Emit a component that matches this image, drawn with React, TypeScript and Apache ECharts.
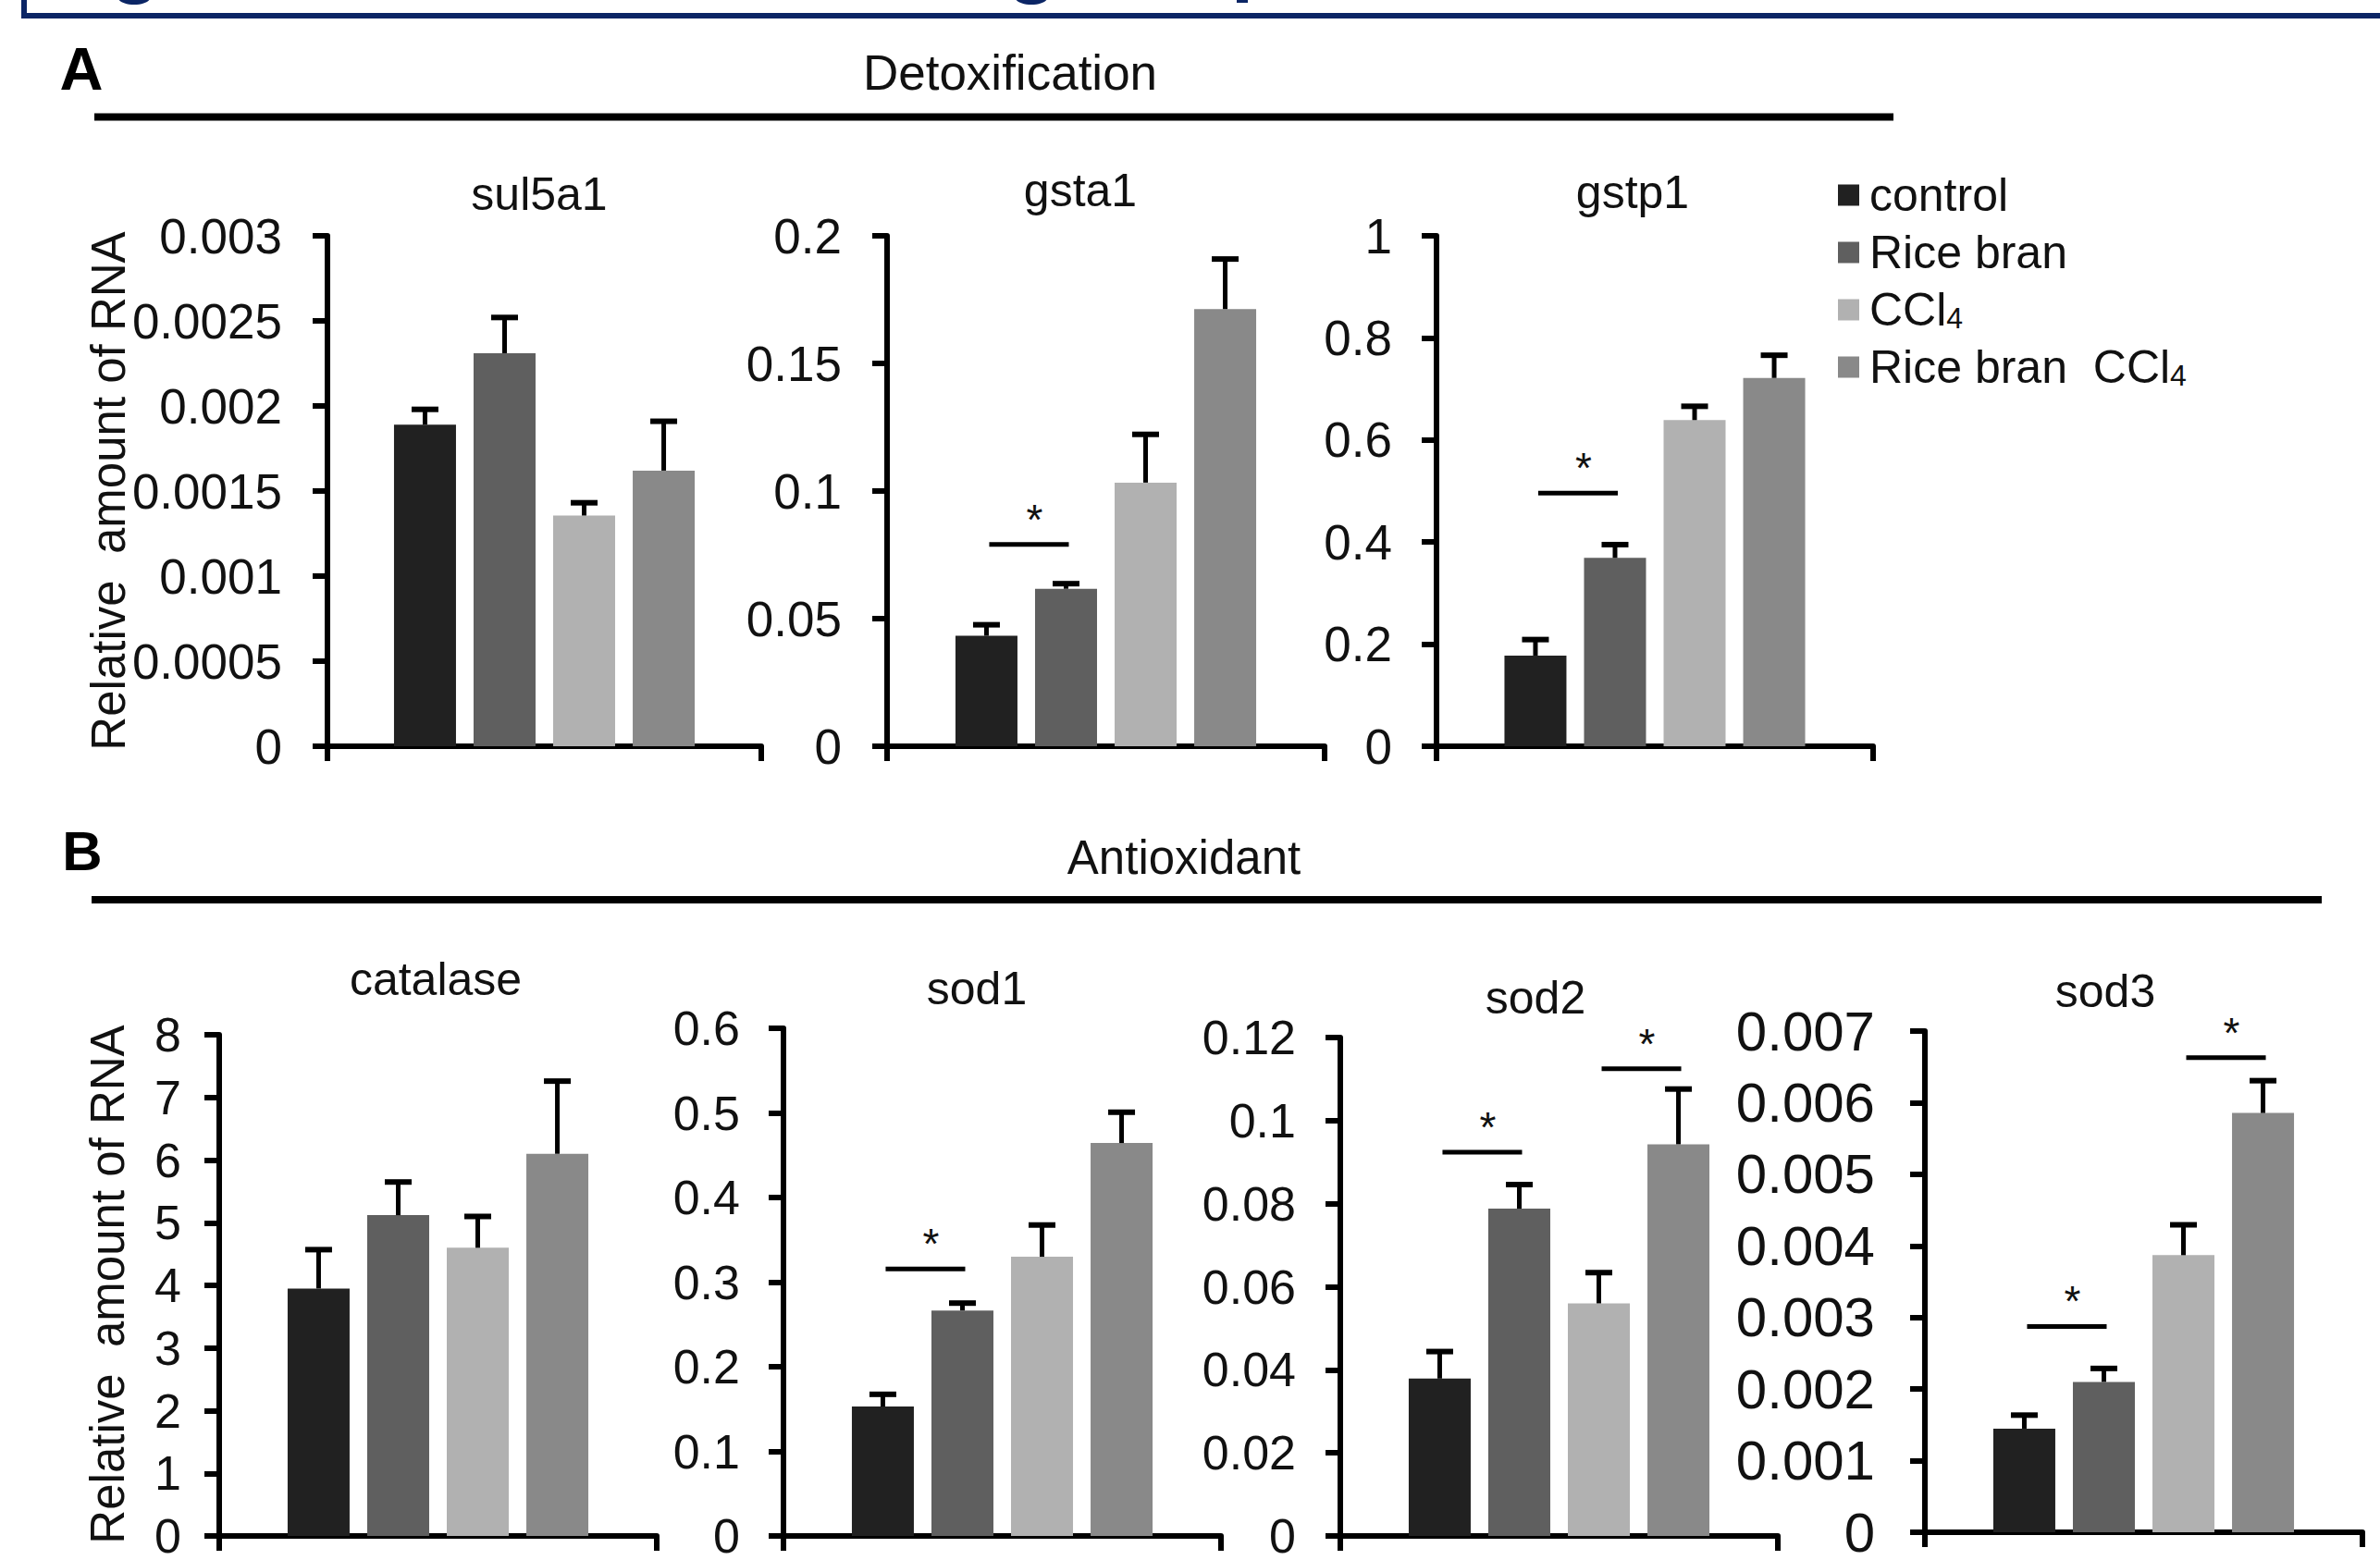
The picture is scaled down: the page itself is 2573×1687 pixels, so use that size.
import React, { useEffect, useRef } from 'react';
import * as echarts from 'echarts';

const FONT = '"Liberation Sans", Arial, Helvetica, sans-serif';

// groups (series)
const GROUPS = ['control', 'Rice bran', 'CCl4', 'Rice bran  CCl4'];
const COLORS = ['#212121', '#5f5f5f', '#b1b1b1', '#898989'];

// genes (one panel each)
const GENES = ['sul5a1', 'gsta1', 'gstp1', 'catalase', 'sod1', 'sod2', 'sod3'];

// means and error bars (SEM)
const sul5a1Mean = [0.00189, 0.00231, 0.001356, 0.00162];
const sul5a1Err = [0.00009, 0.00021, 0.000075, 0.00029];
const gsta1Mean = [0.0433, 0.0617, 0.1033, 0.1713];
const gsta1Err = [0.0043, 0.002, 0.0189, 0.0196];
const gstp1Mean = [0.1776, 0.369, 0.639, 0.7215];
const gstp1Err = [0.0314, 0.026, 0.027, 0.0445];
const catalaseMean = [3.95, 5.12, 4.6, 6.1];
const catalaseErr = [0.62, 0.53, 0.5, 1.16];
const sod1Mean = [0.153, 0.2665, 0.33, 0.4644];
const sod1Err = [0.0144, 0.0087, 0.0375, 0.0364];
const sod2Mean = [0.0379, 0.0788, 0.056, 0.0943];
const sod2Err = [0.0065, 0.0058, 0.0074, 0.0133];
const sod3Mean = [0.001447, 0.0021, 0.00387, 0.005856];
const sod3Err = [0.000189, 0.000188, 0.000424, 0.000451];

// significance brackets: [from group, to group, level]
const sul5a1Sig: number[][] = [];
const gsta1Sig = [[0, 1, 0.0791]];
const gstp1Sig = [[0, 1, 0.496]];
const catalaseSig: number[][] = [];
const sod1Sig = [[0, 1, 0.3156]];
const sod2Sig = [[0, 1, 0.0924], [2, 3, 0.1125]];
const sod3Sig = [[0, 1, 0.002874], [2, 3, 0.00663]];

// y axis ticks
const Y_MAX = [0.003, 0.2, 1, 8, 0.6, 0.12, 0.007];
const Y_STEP = [0.0005, 0.05, 0.2, 1, 0.1, 0.02, 0.001];

const MEANS = [sul5a1Mean, gsta1Mean, gstp1Mean, catalaseMean, sod1Mean, sod2Mean, sod3Mean];
const ERRS = [sul5a1Err, gsta1Err, gstp1Err, catalaseErr, sod1Err, sod2Err, sod3Err];
const SIGS = [sul5a1Sig, gsta1Sig, gstp1Sig, catalaseSig, sod1Sig, sod2Sig, sod3Sig];

// layout
const GRIDS = [
  { left: 354, top: 255, width: 469, height: 552 },
  { left: 959, top: 255, width: 473, height: 552 },
  { left: 1553, top: 255, width: 472, height: 552 },
  { left: 237, top: 1119, width: 473, height: 551 },
  { left: 847, top: 1112, width: 473, height: 558 },
  { left: 1449, top: 1122, width: 473, height: 549 },
  { left: 2081, top: 1115, width: 473, height: 556 },
];
const LABEL_SIZE = [53, 53, 53, 52, 52, 52, 60];
const LABEL_MARGIN = [49, 49, 48, 41, 47, 48, 54];
const TITLE_POS = [
  [583, 210], [1168, 206], [1765, 208],
  [471, 1059], [1056, 1069], [1660, 1079], [2276, 1072],
];

const BAR_W = 67;
const BAR_GAP = 0.284;
const STEP = BAR_W * (1 + BAR_GAP);
const CAP = 29;

function fmt(v: number) {
  return String(parseFloat(Number(v).toPrecision(6)));
}

function txt(text: string, x: number, y: number, size: number, extra: any = {}) {
  return {
    type: 'text',
    x,
    y,
    rotation: extra.rotation || 0,
    silent: true,
    style: {
      text,
      fontSize: size,
      fontFamily: FONT,
      fontWeight: extra.bold ? 'bold' : 'normal',
      fill: extra.fill || '#111',
      align: 'center',
      verticalAlign: 'middle',
      textAlign: 'center',
      textVerticalAlign: 'middle',
    },
  };
}

export default function App() {
  const ref = useRef<HTMLDivElement>(null);

  useEffect(() => {
    if (!ref.current) return;
    const chart = echarts.init(ref.current, undefined, { renderer: 'svg' });

    const grid: any[] = [];
    const xAxis: any[] = [];
    const yAxis: any[] = [];
    const series: any[] = [];

    GENES.forEach((gene, gi) => {
      grid.push({ ...GRIDS[gi], containLabel: false });
      xAxis.push({
        type: 'category',
        gridIndex: gi,
        data: [gene],
        boundaryGap: true,
        axisLine: { show: true, lineStyle: { color: '#000', width: 6 } },
        axisTick: { show: true, length: 16, inside: false, lineStyle: { color: '#000', width: 6 } },
        axisLabel: { show: false },
        splitLine: { show: false },
      });
      yAxis.push({
        type: 'value',
        gridIndex: gi,
        min: 0,
        max: Y_MAX[gi],
        interval: Y_STEP[gi],
        axisLine: { show: true, lineStyle: { color: '#000', width: 6 } },
        axisTick: { show: true, length: 16, inside: false, lineStyle: { color: '#000', width: 6 } },
        axisLabel: {
          show: true,
          fontSize: LABEL_SIZE[gi],
          fontFamily: FONT,
          color: '#111',
          margin: LABEL_MARGIN[gi],
          formatter: fmt,
        },
        splitLine: { show: false },
      });

      GROUPS.forEach((g, k) => {
        series.push({
          type: 'bar',
          name: g,
          xAxisIndex: gi,
          yAxisIndex: gi,
          data: [MEANS[gi][k]],
          barWidth: BAR_W,
          barGap: (BAR_GAP * 100).toFixed(1) + '%',
          itemStyle: { color: COLORS[k] },
          silent: true,
        });
      });

      series.push({
        type: 'custom',
        name: 'err-' + gene,
        xAxisIndex: gi,
        yAxisIndex: gi,
        z: 5,
        silent: true,
        clip: false,
        encode: { x: 0, y: 1 },
        data: MEANS[gi].map((m, k) => [0, m, ERRS[gi][k], k]),
        renderItem: (_p: any, api: any) => {
          const mean = api.value(1);
          const err = api.value(2);
          const k = api.value(3);
          const base = api.coord([0, mean]);
          const top = api.coord([0, mean + err]);
          const x = base[0] + (k - 1.5) * STEP;
          return {
            type: 'group',
            children: [
              { type: 'line', shape: { x1: x, y1: base[1], x2: x, y2: top[1] }, style: { stroke: '#000', lineWidth: 5 } },
              { type: 'line', shape: { x1: x - CAP / 2, y1: top[1], x2: x + CAP / 2, y2: top[1] }, style: { stroke: '#000', lineWidth: 6 } },
            ],
          };
        },
      });

      if (SIGS[gi].length) {
        series.push({
          type: 'custom',
          name: 'sig-' + gene,
          xAxisIndex: gi,
          yAxisIndex: gi,
          z: 5,
          silent: true,
          clip: false,
          encode: { x: 0, y: 1 },
          data: SIGS[gi].map((s) => [0, s[2], s[0], s[1]]),
          renderItem: (_p: any, api: any) => {
            const level = api.value(1);
            const i = api.value(2);
            const j = api.value(3);
            const p = api.coord([0, level]);
            const x1 = p[0] + (i - 1.5) * STEP + 3;
            const x2 = p[0] + (j - 1.5) * STEP + 3;
            return {
              type: 'group',
              children: [
                { type: 'line', shape: { x1, y1: p[1], x2, y2: p[1] }, style: { stroke: '#000', lineWidth: 5 } },
                {
                  type: 'text',
                  x: (x1 + x2) / 2 + 6,
                  y: p[1] - 27,
                  style: {
                    text: '*', fontSize: 46, fontFamily: FONT, fill: '#111',
                    align: 'center', verticalAlign: 'middle', textAlign: 'center', textVerticalAlign: 'middle',
                  },
                },
              ],
            };
          },
        });
      }
    });

    const graphic: any[] = [
      // cropped figure frame at top
      { type: 'polyline', silent: true, shape: { points: [[26, -10], [26, 17], [2600, 17]] }, style: { stroke: '#0b2565', lineWidth: 6, fill: 'none' } },
      { type: 'ellipse', silent: true, shape: { cx: 145, cy: -2, rx: 17, ry: 7 }, style: { fill: '#0b2565' } },
      { type: 'ellipse', silent: true, shape: { cx: 1115, cy: -2, rx: 17, ry: 7 }, style: { fill: '#0b2565' } },
      { type: 'rect', silent: true, shape: { x: 1337, y: 0, width: 12, height: 3 }, style: { fill: '#0b2565' } },
      // panel A
      txt('A', 88, 74, 65, { bold: true, fill: '#000' }),
      txt('Detoxification', 1092, 78, 53),
      { type: 'line', silent: true, shape: { x1: 102, y1: 126.5, x2: 2047, y2: 126.5 }, style: { stroke: '#000', lineWidth: 8 } },
      txt('Relative  amount of RNA', 117, 531, 51, { rotation: Math.PI / 2 }),
      // panel B
      txt('B', 89, 920, 60, { bold: true, fill: '#000' }),
      txt('Antioxidant', 1280, 927, 51),
      { type: 'line', silent: true, shape: { x1: 99, y1: 973, x2: 2510, y2: 973 }, style: { stroke: '#000', lineWidth: 8 } },
      txt('Relative  amount of RNA', 116, 1389, 51, { rotation: Math.PI / 2 }),
    ];
    GENES.forEach((gene, gi) => {
      graphic.push(txt(gene, TITLE_POS[gi][0], TITLE_POS[gi][1], 50));
    });

    chart.setOption({
      animation: false,
      backgroundColor: '#fff',
      textStyle: { fontFamily: FONT },
      grid,
      xAxis,
      yAxis,
      series,
      graphic,
      legend: {
        data: GROUPS,
        orient: 'vertical',
        left: 1987,
        top: 186,
        padding: 0,
        itemGap: 12,
        itemWidth: 23,
        itemHeight: 23,
        icon: 'rect',
        selectedMode: false,
        formatter: (name: string) => name.replace('CCl4', 'CCl{s|4}'),
        textStyle: {
          fontSize: 50,
          lineHeight: 50,
          fontFamily: FONT,
          color: '#111',
          padding: [0, 0, 0, 6],
          rich: {
            s: { fontSize: 32, lineHeight: 30, verticalAlign: 'bottom', fontFamily: FONT, color: '#111', padding: [16, 0, 0, 0] },
          },
        },
      },
    });

    return () => chart.dispose();
  }, []);

  return (
    <div
      ref={ref}
      style={{ position: 'fixed', left: 0, top: 0, width: 2573, height: 1687, background: '#fff' }}
    />
  );
}
